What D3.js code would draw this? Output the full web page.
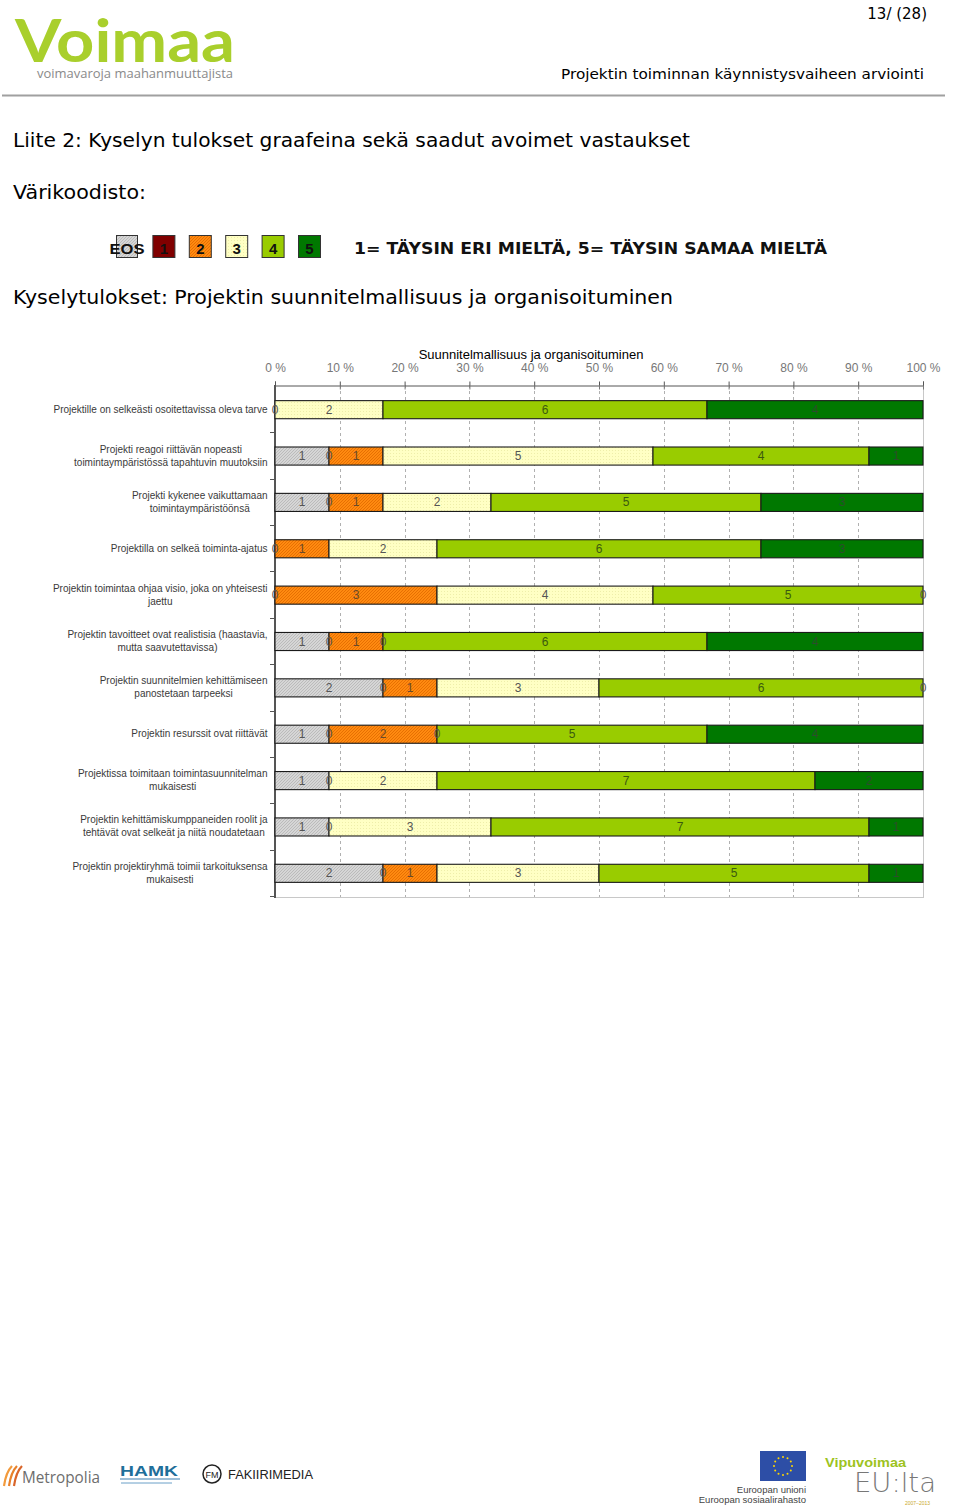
<!DOCTYPE html>
<html>
<head>
<meta charset="utf-8">
<script src="https://cdn.jsdelivr.net/npm/d3@7"></script>
<style>
html,body{margin:0;padding:0;background:#fff;}
svg{display:block;}
</style>
</head>
<body>
<svg id="page" width="960" height="1511"></svg>
<script>
// ---------------- DATA ----------------
const categories = [
  "Projektille on selkeästi osoitettavissa oleva tarve",
  "Projekti reagoi riittävän nopeasti\ntoimintaympäristössä tapahtuvin muutoksiin",
  "Projekti kykenee vaikuttamaan\ntoimintaympäristöönsä",
  "Projektilla on selkeä toiminta-ajatus",
  "Projektin toimintaa ohjaa visio, joka on yhteisesti\njaettu",
  "Projektin tavoitteet ovat realistisia (haastavia,\nmutta saavutettavissa)",
  "Projektin suunnitelmien kehittämiseen\npanostetaan tarpeeksi",
  "Projektin resurssit ovat riittävät",
  "Projektissa toimitaan toimintasuunnitelman\nmukaisesti",
  "Projektin kehittämiskumppaneiden roolit ja\ntehtävät ovat selkeät ja niitä noudatetaan",
  "Projektin projektiryhmä toimii tarkoituksensa\nmukaisesti"
];
// null = no segment shown
const seriesEOS = [null, 1, 1, null, null, 1, 2, 1, 1, 1, 2];
const series1   = [0,    0, 0, 0,    0,    0, 0, 0, 0, 0, 0];
const series2   = [null, 1, 1, 1,    3,    1, 1, 2, null, null, 1];
const series3   = [2,    5, 2, 2,    4,    0, 3, 0, 2, 3, 3];
const series4   = [6,    4, 5, 6,    5,    6, 6, 5, 7, 7, 5];
const series5   = [4,    1, 3, 3,    0,    4, 0, 4, 2, 1, 1];
const seriesKeys = ["EOS", "1", "2", "3", "4", "5"];
const tickValues = [0, 0.1, 0.2, 0.3, 0.4, 0.5, 0.6, 0.7, 0.8, 0.9, 1.0];
const chartTitle = "Suunnitelmallisuus ja organisoituminen";
const legendText = "1= TÄYSIN ERI MIELTÄ, 5= TÄYSIN SAMAA MIELTÄ";

const seriesData = [seriesEOS, series1, series2, series3, series4, series5];

// ---------------- PAGE ----------------
const svg = d3.select("#page");
const defs = svg.append("defs");

function hatch(id, bg, fg, size, w) {
  const p = defs.append("pattern").attr("id", id).attr("patternUnits", "userSpaceOnUse")
    .attr("width", size).attr("height", size);
  p.append("rect").attr("width", size).attr("height", size).attr("fill", bg);
  p.append("path").attr("d", `M0,${size} L${size},0 M${-size/2},${size/2} L${size/2},${-size/2} M${size/2},${size*1.5} L${size*1.5},${size/2}`)
    .attr("stroke", fg).attr("stroke-width", w);
  return `url(#${id})`;
}
function dots(id, bg, fg) {
  const p = defs.append("pattern").attr("id", id).attr("patternUnits", "userSpaceOnUse")
    .attr("width", 3).attr("height", 3);
  p.append("rect").attr("width", 3).attr("height", 3).attr("fill", bg);
  p.append("rect").attr("width", 1).attr("height", 1).attr("fill", fg);
  return `url(#${id})`;
}
const fillEOS = hatch("hEOS", "#d6d6d6", "#b4b4b4", 3, 0.8);
const fill2 = hatch("h2", "#ff8a10", "#e46c00", 3, 0.9);
const fill3 = dots("d3", "#ffffc4", "#eeeeaa");
const colorFill = { "EOS": fillEOS, "1": "#800000", "2": fill2, "3": fill3, "4": "#99cc00", "5": "#007800" };
const labelColor = { "EOS": "#555", "1": "#ddd", "2": "#6a4a2a", "3": "#555", "4": "#3b5a10", "5": "#2c4e2c" };

// ---- Header ----
svg.append("text").attr("x", 15).attr("y", 62)
  .attr("font-family", "Lato, 'DejaVu Sans', sans-serif").attr("font-weight", "bold")
  .attr("font-size", 60).attr("fill", "#a9cf2c")
  .attr("textLength", 220).attr("lengthAdjust", "spacingAndGlyphs").text("Voimaa");
svg.append("text").attr("x", 37).attr("y", 78)
  .attr("font-family", "'Open Sans', 'DejaVu Sans', sans-serif")
  .attr("font-size", 13).attr("fill", "#8a8a8a")
  .attr("textLength", 196).attr("lengthAdjust", "spacingAndGlyphs").text("voimavaroja maahanmuuttajista");

svg.append("text").attr("x", 927).attr("y", 19).attr("text-anchor", "end")
  .attr("font-family", "'DejaVu Sans', sans-serif").attr("font-size", 15).attr("fill", "#000")
  .text("13/ (28)");
svg.append("text").attr("x", 924).attr("y", 79).attr("text-anchor", "end")
  .attr("font-family", "'DejaVu Sans', sans-serif").attr("font-size", 14).attr("fill", "#000")
  .attr("textLength", 363).attr("lengthAdjust", "spacingAndGlyphs")
  .text("Projektin toiminnan käynnistysvaiheen arviointi");
svg.append("line").attr("x1", 2).attr("x2", 945).attr("y1", 95.5).attr("y2", 95.5)
  .attr("stroke", "#a0a0a0").attr("stroke-width", 2);

svg.append("text").attr("x", 13).attr("y", 147)
  .attr("font-family", "'DejaVu Sans', sans-serif").attr("font-size", 19).attr("fill", "#000")
  .attr("textLength", 677).attr("lengthAdjust", "spacingAndGlyphs")
  .text("Liite 2: Kyselyn tulokset graafeina sekä saadut avoimet vastaukset");
svg.append("text").attr("x", 13).attr("y", 199)
  .attr("font-family", "'DejaVu Sans', sans-serif").attr("font-size", 19).attr("fill", "#000")
  .attr("textLength", 133).attr("lengthAdjust", "spacingAndGlyphs")
  .text("Värikoodisto:");
svg.append("text").attr("x", 13).attr("y", 304)
  .attr("font-family", "'DejaVu Sans', sans-serif").attr("font-size", 19).attr("fill", "#000")
  .attr("textLength", 660).attr("lengthAdjust", "spacingAndGlyphs")
  .text("Kyselytulokset: Projektin suunnitelmallisuus ja organisoituminen");

// ---- Colour legend ----
const legendX = d3.scalePoint().domain(seriesKeys).range([116, 298]);
const lg = svg.append("g");
seriesKeys.forEach(k => {
  const x0 = legendX(k);
  lg.append("rect").attr("x", x0 + 0.5).attr("y", 235.5).attr("width", k === "EOS" ? 21 : 22).attr("height", 22)
    .attr("fill", colorFill[k]).attr("stroke", "#333").attr("stroke-width", 1);
  lg.append("text").attr("x", k === "EOS" ? x0 + 11 : x0 + 11.5).attr("y", 253.5).attr("text-anchor", "middle")
    .attr("font-family", "'Liberation Sans', Arial, sans-serif").attr("font-weight", "bold")
    .attr("font-size", 15).attr("fill", "#111")
    .attr("textLength", k === "EOS" ? 35 : null).attr("lengthAdjust", "spacingAndGlyphs")
    .text(k);
});
lg.append("text").attr("x", 354).attr("y", 254)
  .attr("font-family", "'DejaVu Sans', sans-serif").attr("font-weight", "bold")
  .attr("font-size", 15).attr("fill", "#111")
  .attr("textLength", 473).attr("lengthAdjust", "spacingAndGlyphs")
  .text(legendText);

// ---------------- CHART ----------------
const x = d3.scaleLinear().domain([0, 1]).range([275, 923]);
const y = d3.scaleBand().domain(categories).range([386, 896]).paddingInner(0.61).paddingOuter(0.305);
const chartFont = "'Liberation Sans', Arial, sans-serif";
const g = svg.append("g");

g.append("text").attr("x", 531).attr("y", 359).attr("text-anchor", "middle")
  .attr("font-family", chartFont).attr("font-size", 13).attr("fill", "#000").text(chartTitle);

g.append("g").selectAll("line").data(tickValues.slice(1, -1)).join("line")
  .attr("x1", d => Math.round(x(d)) + 0.5).attr("x2", d => Math.round(x(d)) + 0.5)
  .attr("y1", 385).attr("y2", 897)
  .attr("stroke", "#b0b0b0").attr("stroke-dasharray", "3,3").attr("stroke-width", 1);
g.append("line").attr("x1", 923.5).attr("x2", 923.5).attr("y1", 385).attr("y2", 897).attr("stroke", "#c8c8c8");
g.append("line").attr("x1", 275).attr("x2", 924).attr("y1", 897.5).attr("y2", 897.5).attr("stroke", "#c8c8c8");

const axisTop = g.append("g").attr("transform", "translate(0,385.5)")
  .call(d3.axisTop(x).tickValues(tickValues).tickFormat(d => Math.round(d * 100) + " %")
    .tickSize(4).tickPadding(10));
axisTop.select(".domain").attr("stroke", "#555");
axisTop.selectAll(".tick line").attr("stroke", "#555");
axisTop.selectAll(".tick").append("line").attr("y1", 0).attr("y2", 4).attr("stroke", "#777");
axisTop.selectAll("text").attr("font-family", chartFont).attr("font-size", 12).attr("fill", "#777");

const boundaries = d3.range(categories.length + 1).map(i => y.range()[0] + i * y.step());
g.append("line").attr("x1", 275).attr("x2", 275).attr("y1", 385).attr("y2", 898)
  .attr("stroke", "#555").attr("stroke-width", 2);
g.append("g").selectAll("line").data(boundaries.slice(1)).join("line")
  .attr("x1", 270).attr("x2", 275).attr("y1", d => Math.round(d) + 0.5).attr("y2", d => Math.round(d) + 0.5)
  .attr("stroke", "#555");

const rows = categories.map((c, i) => {
  const vals = seriesData.map(s => s[i]);
  const total = d3.sum(vals.map(v => v || 0));
  let acc = 0;
  return vals.map((v, j) => {
    const start = acc;
    acc += (v || 0);
    return { cat: c, key: seriesKeys[j], value: v, x0: start / total, x1: acc / total };
  }).filter(d => d.value !== null);
});

const barG = g.append("g");
rows.forEach(segs => {
  const rg = barG.append("g");
  rg.selectAll("rect").data(segs).join("rect")
    .attr("x", d => x(d.x0)).attr("width", d => x(d.x1) - x(d.x0))
    .attr("y", d => y(d.cat) + 0.5).attr("height", y.bandwidth())
    .attr("fill", d => colorFill[d.key])
    .attr("stroke", "#1a1a1a").attr("stroke-width", 1.1);
  rg.selectAll("text").data(segs).join("text")
    .attr("x", d => (x(d.x0) + x(d.x1)) / 2)
    .attr("y", d => y(d.cat) + y.bandwidth() / 2 + 4.5)
    .attr("text-anchor", "middle")
    .attr("font-family", chartFont).attr("font-size", 12)
    .attr("fill", d => d.value === 0 ? "#555" : labelColor[d.key])
    .text(d => d.value);
});

const catG = g.append("g");
categories.forEach(c => {
  const lines = c.split("\n");
  const t = catG.append("text")
    .attr("font-family", chartFont).attr("font-size", 10).attr("fill", "#3a3a3a")
    .attr("text-anchor", "middle");
  const cy = y(c) + y.bandwidth() / 2;
  const lh = 13;
  const tsp = lines.map((ln, i) => t.append("tspan").attr("y", cy + 3.5 + (i - (lines.length - 1) / 2) * lh).text(ln));
  const maxW = d3.max(tsp.map(s => s.node().getComputedTextLength()));
  const center = 267.5 - maxW / 2;
  tsp.forEach(s => s.attr("x", center));
});

// ---------------- FOOTER LOGOS ----------------
const f = svg.append("g");
[[4, "#f29a3c"], [9, "#e8812a"], [14, "#d9652a"]].forEach(([dx, col]) => {
  f.append("path").attr("d", `M${dx},1486 Q${dx + 2},1472 ${dx + 8},1466`)
    .attr("stroke", col).attr("stroke-width", 2.2).attr("fill", "none");
});
f.append("text").attr("x", 22).attr("y", 1483).attr("font-family", "'Open Sans', sans-serif")
  .attr("font-size", 16).attr("fill", "#6d6d6d")
  .attr("textLength", 78).attr("lengthAdjust", "spacingAndGlyphs").text("Metropolia");
f.append("text").attr("x", 120).attr("y", 1476).attr("font-family", "'Liberation Sans', sans-serif")
  .attr("font-weight", "bold").attr("font-size", 15).attr("fill", "#1f6f9a")
  .attr("textLength", 58).attr("lengthAdjust", "spacingAndGlyphs").text("HAMK");
f.append("line").attr("x1", 120).attr("x2", 180).attr("y1", 1479).attr("y2", 1479).attr("stroke", "#3a7fb0").attr("stroke-width", 1.2);
f.append("line").attr("x1", 121).attr("x2", 172).attr("y1", 1483).attr("y2", 1483).attr("stroke", "#6aa0c8").attr("stroke-width", 1);
f.append("circle").attr("cx", 212).attr("cy", 1474).attr("r", 9).attr("fill", "none").attr("stroke", "#222").attr("stroke-width", 1.5);
f.append("text").attr("x", 212).attr("y", 1478).attr("text-anchor", "middle").attr("font-family", "'Liberation Sans', sans-serif")
  .attr("font-size", 9).attr("fill", "#222").text("FM");
f.append("text").attr("x", 228).attr("y", 1479).attr("font-family", "'Liberation Sans', sans-serif")
  .attr("font-size", 12).attr("fill", "#222")
  .attr("textLength", 85).attr("lengthAdjust", "spacingAndGlyphs").text("FAKIIRIMEDIA");
f.append("rect").attr("x", 760).attr("y", 1451).attr("width", 46).attr("height", 30).attr("fill", "#2d4ea6");
d3.range(12).forEach(i => {
  const a = i / 12 * 2 * Math.PI;
  f.append("circle").attr("cx", 783 + 9 * Math.cos(a)).attr("cy", 1466 + 9 * Math.sin(a)).attr("r", 1).attr("fill", "#ffd700");
});
f.append("text").attr("x", 806).attr("y", 1493).attr("text-anchor", "end").attr("font-family", "'Liberation Sans', sans-serif")
  .attr("font-size", 9.5).attr("fill", "#444").text("Euroopan unioni");
f.append("text").attr("x", 806).attr("y", 1503).attr("text-anchor", "end").attr("font-family", "'Liberation Sans', sans-serif")
  .attr("font-size", 9.5).attr("fill", "#444").text("Euroopan sosiaalirahasto");
f.append("text").attr("x", 825).attr("y", 1467).attr("font-family", "'Liberation Sans', sans-serif")
  .attr("font-weight", "bold").attr("font-size", 13).attr("fill", "#9dc31e")
  .attr("textLength", 81).attr("lengthAdjust", "spacingAndGlyphs").text("Vipuvoimaa");
f.append("text").attr("x", 854).attr("y", 1492).attr("font-family", "'DejaVu Sans', sans-serif")
  .attr("font-weight", 300).attr("font-size", 26).attr("fill", "#777")
  .attr("textLength", 82).attr("lengthAdjust", "spacingAndGlyphs").text("EU:lta");
f.append("text").attr("x", 905).attr("y", 1505).attr("font-family", "'Liberation Sans', sans-serif")
  .attr("font-size", 5).attr("fill", "#c9a82a").text("2007–2013");
</script>
</body>
</html>
